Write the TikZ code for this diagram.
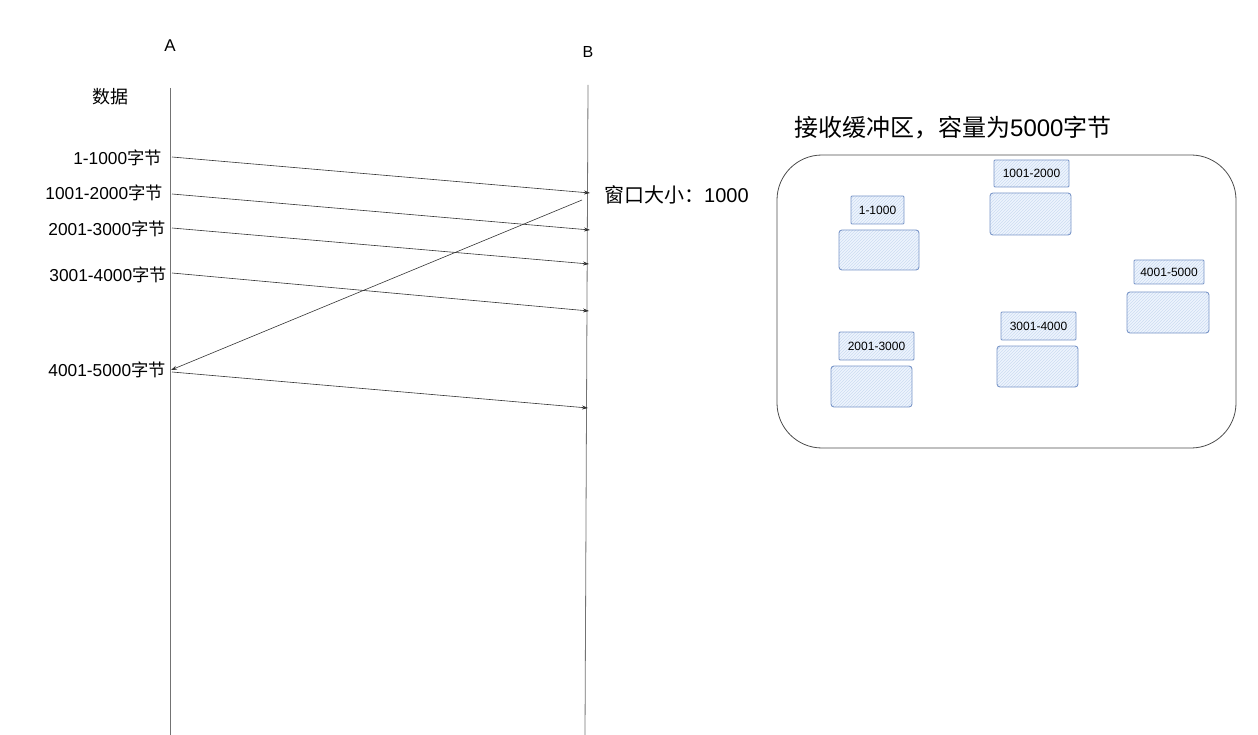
\documentclass[tikz,border=0pt]{standalone}
\usepackage{fontspec}
\setmainfont{Liberation Sans}
\newfontfamily\cjk{Noto Sans CJK SC}
\usetikzlibrary{arrows.meta}
\usetikzlibrary{patterns}
\definecolor{bufline}{RGB}{122,150,200}
\definecolor{buffill}{RGB}{238,244,253}
\definecolor{hatch}{RGB}{205,220,242}
\newcommand{\zj}{{\cjk 字节}}

\begin{document}
\begin{tikzpicture}[x=1pt, y=-1pt,
    life/.style={color=black!55, line width=0.8pt},
    msg/.style={-{Stealth[length=6pt, width=4pt]}, color=black!80, line width=0.6pt},
    lab/.style={anchor=east, inner sep=0pt, font=\fontsize{17.3}{19}\selectfont},
    tag/.style={draw=bufline, line width=0.9pt, rounded corners=1pt,
      preaction={fill=buffill}, pattern=north east lines, pattern color=hatch,
      font=\fontsize{12}{14}\selectfont, inner sep=0pt},
    buf/.style={draw=bufline, line width=0.9pt, rounded corners=3pt,
      preaction={fill=buffill}, pattern=north east lines, pattern color=hatch,
      inner sep=0pt}]
      \useasboundingbox (0,0) rectangle (1258,735);

      % the two hosts
      \node (A) at (170,46) {\fontsize{17}{19}\selectfont A};
      \node (B) at (588,52) {\fontsize{16}{18}\selectfont B};
      \coordinate (Atop) at (170,88);
      \coordinate (Abot) at (170,735);
      \coordinate (Btop) at (588,85);
      \coordinate (Bbot) at (585,735);
      \path[life] (Atop) edge (Abot);
      \path[life] (Btop) edge (Bbot);

      \node (data) at (110,97) {\fontsize{18}{20}\selectfont\cjk 数据};
      \node[lab] (a1) at (162,158) {1-1000\zj};
      \node[lab] (a2) at (163,193) {1001-2000\zj};
      \node[lab] (a3) at (166,229) {2001-3000\zj};
      \node[lab] (a4) at (167,275) {3001-4000\zj};
      \node[lab] (a5) at (166,370) {4001-5000\zj};

      % segments sent and the window reply
      \coordinate (s1) at (172,157);  \coordinate (r1) at (590,193);
      \coordinate (s2) at (172,194);  \coordinate (r2) at (590,230);
      \coordinate (s3) at (172,228);  \coordinate (r3) at (589,264);
      \coordinate (s4) at (172,273);  \coordinate (r4) at (589,311);
      \coordinate (s5) at (172,372);  \coordinate (r5) at (588,408);
      \coordinate (w0) at (582,200);  \coordinate (w1) at (171,370);
      \path[msg] (s1) edge (r1);
      \path[msg] (s2) edge (r2);
      \path[msg] (s3) edge (r3);
      \path[msg] (s4) edge (r4);
      \path[msg] (s5) edge (r5);
      \path[msg] (w0) edge (w1);
      \node[anchor=west, inner sep=0pt] (win) at (604,195)
        {\fontsize{20}{22}\selectfont{\cjk 窗口大小：}1000};

      % receive buffer
      \node[anchor=west, inner sep=0pt] (title) at (794,128)
        {\fontsize{24}{26}\selectfont{\cjk 接收缓冲区，容量为}5000\zj};
      \draw[black!70, line width=0.8pt, rounded corners=45pt]
        (777,155) rectangle (1236,448);

      \node[tag, minimum width=53pt, minimum height=28pt] (t1) at (877.5,210) {1-1000};
      \node[buf, minimum width=80pt, minimum height=40pt] (b1) at (879,250) {};
      \node[tag, minimum width=75pt, minimum height=27pt] (t2) at (1031.5,173.5) {1001-2000};
      \node[buf, minimum width=81pt, minimum height=42pt] (b2) at (1030.5,214) {};
      \node[tag, minimum width=70pt, minimum height=24pt] (t5) at (1169,272) {4001-5000};
      \node[buf, minimum width=82pt, minimum height=41pt] (b5) at (1168,312.5) {};
      \node[tag, minimum width=75pt, minimum height=28pt] (t3) at (876.5,346) {2001-3000};
      \node[buf, minimum width=81pt, minimum height=41pt] (b3) at (871.5,386.5) {};
      \node[tag, minimum width=75pt, minimum height=28pt] (t4) at (1038.5,326) {3001-4000};
      \node[buf, minimum width=81pt, minimum height=41pt] (b4) at (1037.5,366.5) {};
    \end{tikzpicture}
\end{document}
